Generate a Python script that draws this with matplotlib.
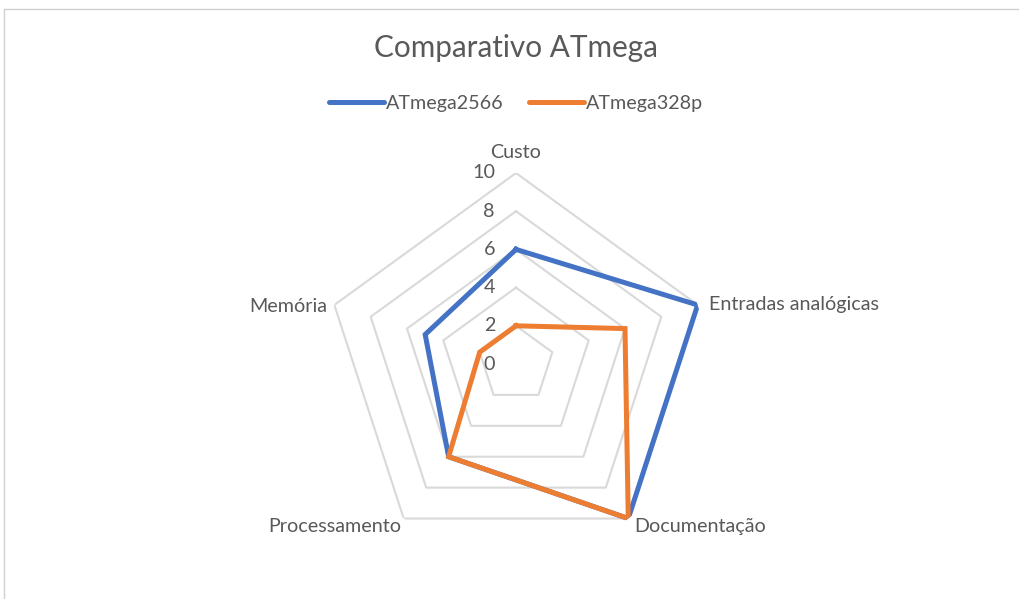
import numpy as np
import matplotlib
matplotlib.use("Agg")
import matplotlib.pyplot as plt
from matplotlib.patches import Rectangle

categories = ["Custo", "Entradas analógicas", "Documentação", "Processamento", "Memória"]
series_names = ["ATmega2566", "ATmega328p"]
atmega2566 = [6, 10, 10, 6, 5]
atmega328p = [2, 6, 10, 6, 2]
ticks = [0, 2, 4, 6, 8, 10]
title = "Comparativo ATmega"

colors = ["#4472C4", "#ED7D31"]
text_color = "#595959"
grid_color = "#D9D9D9"
FONT = ["Lato", "DejaVu Sans"]
plt.rcParams["font.family"] = FONT

W, H = 1019, 599
fig = plt.figure(figsize=(W / 100, H / 100), dpi=100)

# border
fig.patches.append(Rectangle((4 / W, -0.01), 1.02, 1 - 9 / H + 0.01, transform=fig.transFigure,
                             fill=False, edgecolor="#D0D0D0", linewidth=1.0))

cx, cy, R = 516, 364, 191
ax = fig.add_axes([(cx - R) / W, (H - cy - R) / H, 2 * R / W, 2 * R / H], projection="polar")
ax.set_theta_zero_location("N")
ax.set_theta_direction(-1)
ax.set_ylim(0, ticks[-1])
ax.grid(False)
ax.spines["polar"].set_visible(False)
ax.set_xticks([])
ax.set_yticks([])
ax.patch.set_alpha(0)

n = len(categories)
angles = np.linspace(0, 2 * np.pi, n, endpoint=False)
closed = np.concatenate([angles, angles[:1]])

# pentagon gridlines
for t in ticks[1:]:
    ax.plot(closed, [t] * (n + 1), color=grid_color, linewidth=1.5, zorder=1)

# tick labels
for t in ticks:
    ax.annotate(str(t), xy=(0, t), xytext=(-21, 0), textcoords="offset pixels",
                ha="right", va="center", fontsize=14.2, color=text_color)

# series
for vals, c, name in zip([atmega2566, atmega328p], colors, series_names):
    v = list(vals) + [vals[0]]
    ax.plot(closed, v, color=c, linewidth=3.6, label=name, zorder=3,
            solid_joinstyle="miter")

# category labels
offsets = [(0, 21, "center", "center"), (11, 0, "left", "center"), (6, -8, "left", "center"),
           (-2, -8, "right", "center"), (-7, -2, "right", "center")]
for a, lab, (dx, dy, ha, va) in zip(angles, categories, offsets):
    ax.annotate(lab, xy=(a, ticks[-1]), xytext=(dx, dy), textcoords="offset pixels",
                ha=ha, va=va, fontsize=14.2, color=text_color, annotation_clip=False)

fig.text(cx / W, 1 - 48 / H, title, ha="center", va="center", fontsize=21.4, color=text_color)

leg = fig.legend(loc="center", bbox_to_anchor=(cx / W, 1 - 103 / H), ncol=2, frameon=False,
                 fontsize=14.2, handlelength=2.8, handletextpad=0.1, columnspacing=1.25)
for txt in leg.get_texts():
    txt.set_color(text_color)
for ln in leg.get_lines():
    ln.set_solid_capstyle("round")

fig.savefig("out.png", dpi=100, facecolor="white")
